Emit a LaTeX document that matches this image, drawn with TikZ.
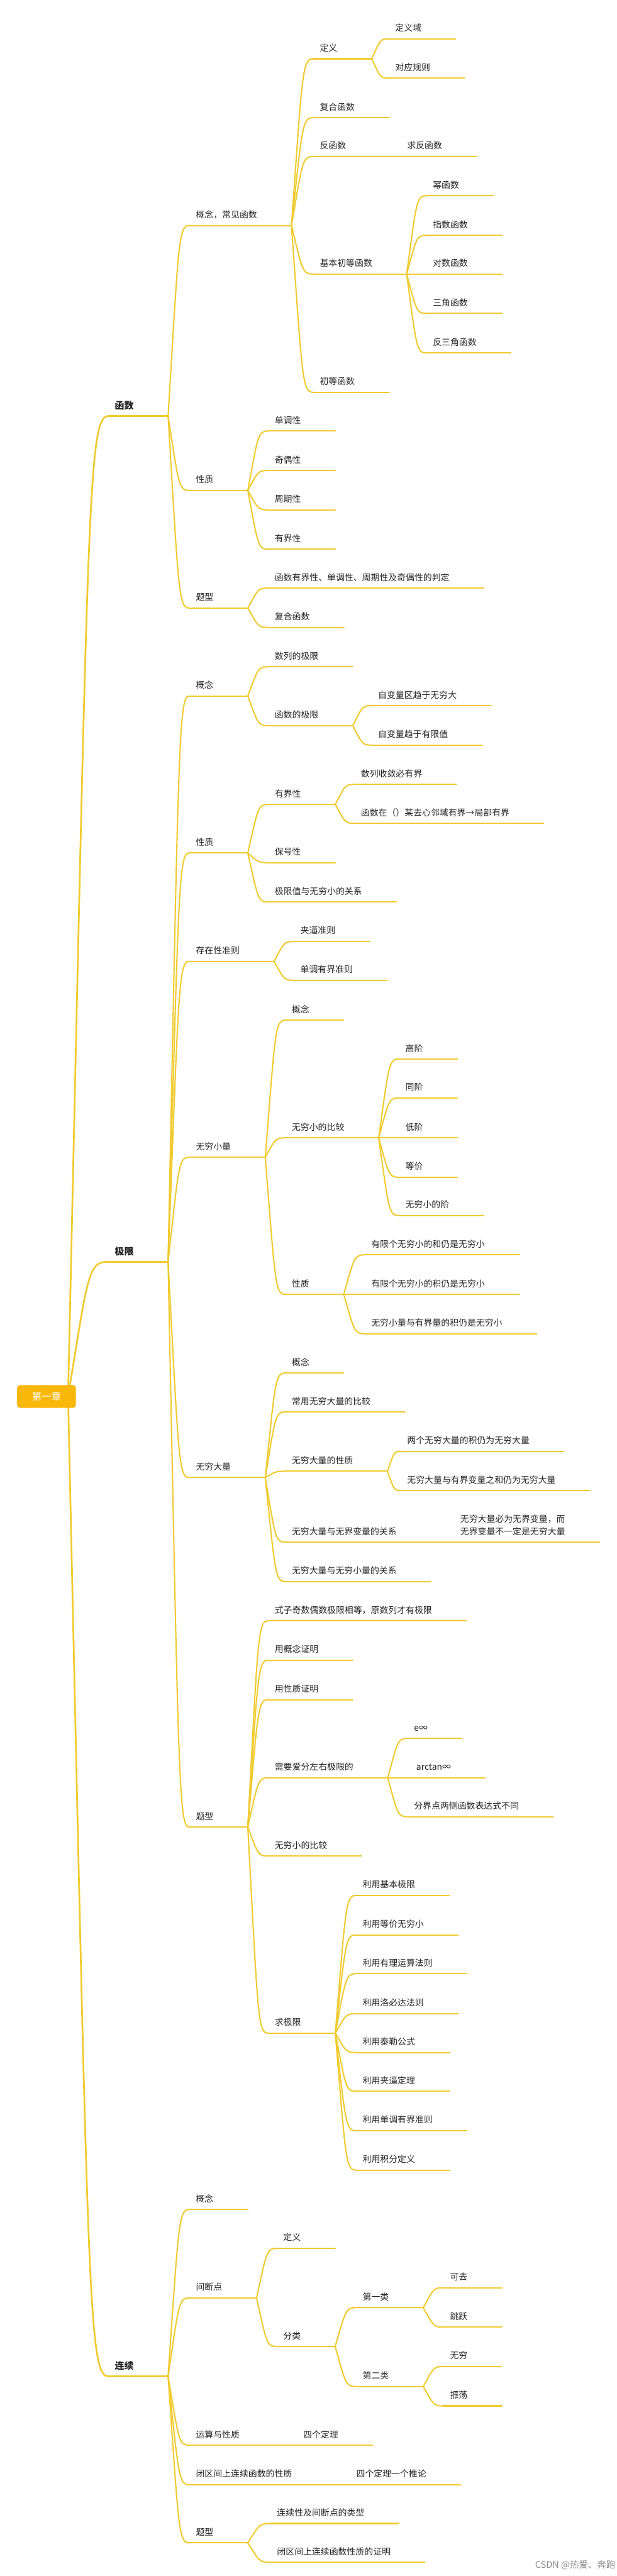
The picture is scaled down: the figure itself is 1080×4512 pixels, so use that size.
\documentclass[tikz,border=0pt]{standalone}
\usepackage{fontspec}
\setmainfont{Noto Sans CJK SC}
\usetikzlibrary{calc,backgrounds}
\definecolor{twigyellow}{RGB}{240,203,48}
\definecolor{rootamber}{RGB}{249,183,10}
\definecolor{inkgrey}{RGB}{34,34,34}
\definecolor{markgrey}{RGB}{140,140,140}
% curved connector: from a point to the left end of a topic's underline
\newcommand{\branch}[3][]{%
  \path (#2) coordinate (bA) (#3.south west) coordinate (bB)
    ($(bA)!0.5!(bB)$) coordinate (bM) ($(bA)!0.9!(bB)$) coordinate (bN);
  \draw[twig,#1] (bA) .. controls (bM |- bN) and (bM |- bB) .. (bB);
}

\begin{document}
\begin{tikzpicture}[x=1pt, y=-1pt,
  twig/.style={draw=twigyellow, line width=2.3pt, line cap=round},
  limb/.style={line width=3pt},
  topic/.style={anchor=south west, inner xsep=12pt, inner ysep=9pt,
    text height=11pt, text depth=4pt, text=inkgrey,
    font=\fontsize{15.3}{22}\selectfont,
    execute at end node={\hspace{48pt}},
    append after command={(\tikzlastnode.south west) edge[twig] (\tikzlastnode.south east)}},
  major/.style={topic, inner ysep=8pt, font=\fontsize{16.5}{20}\selectfont\bfseries,
    append after command={(\tikzlastnode.south west) edge[twig,limb] (\tikzlastnode.south east)}},
  root/.style={fill=rootamber, rounded corners=5pt, text=white,
    minimum width=103pt, minimum height=40pt, font=\fontsize{17}{20}\selectfont},
  csdnmark/.style={text=markgrey, inner sep=0pt, font=\fontsize{16}{18}\selectfont}]
  \useasboundingbox (0,0) rectangle (1080,4512);
  \begin{scope}[on background layer]
    \fill[white] (0,0) rectangle (1080,4512);
  \end{scope}

  % Root
  \node[root] (root) at (81.5,2446) {第一章};

  % 函数
  \node[major] (fn) at (189,729) {函数};
  \node[topic] (fnBasic) at (331,395) {概念，常见函数};
  \node[topic] (fnDef) at (548,103) {定义};
  \node[topic] (fnDom) at (680,68) {定义域};
  \node[topic] (fnRule) at (680,137) {对应规则};
  \node[topic] (fnComp) at (548,206) {复合函数};
  \node[topic] (fnInv) at (548,274) {反函数};
  \node[topic] (fnInvFind) at (701,274) {求反函数};
  \node[topic] (fnElemBase) at (548,480) {基本初等函数};
  \node[topic] (fnPow) at (746,343) {幂函数};
  \node[topic] (fnExp) at (746,412) {指数函数};
  \node[topic] (fnLog) at (746,480) {对数函数};
  \node[topic] (fnTrig) at (746,549) {三角函数};
  \node[topic] (fnArc) at (746,618) {反三角函数};
  \node[topic] (fnElem) at (548,687) {初等函数};
  \node[topic] (fnProp) at (331,859) {性质};
  \node[topic] (fnMono) at (469,755) {单调性};
  \node[topic] (fnPar) at (469,824) {奇偶性};
  \node[topic] (fnPer) at (469,893) {周期性};
  \node[topic] (fnBnd) at (469,962) {有界性};
  \node[topic] (fnTask) at (331,1065) {题型};
  \node[topic] (fnTaskA) at (469,1030) {函数有界性、单调性、周期性及奇偶性的判定};
  \node[topic] (fnTaskB) at (469,1099) {复合函数};

  % 极限
  \node[major] (lim) at (189,2210) {极限};
  \node[topic] (limCon) at (331,1219) {概念};
  \node[topic] (limSeq) at (469,1168) {数列的极限};
  \node[topic] (limFun) at (469,1271) {函数的极限};
  \node[topic] (limInf) at (650,1236) {自变量区趋于无穷大};
  \node[topic] (limFin) at (650,1305) {自变量趋于有限值};
  \node[topic] (limProp) at (331,1494) {性质};
  \node[topic] (limBnd) at (469,1409) {有界性};
  \node[topic] (limBndA) at (620,1374) {数列收敛必有界};
  \node[topic] (limBndB) at (620,1442) {函数在（）某去心邻域有界→局部有界};
  \node[topic] (limSign) at (469,1511) {保号性};
  \node[topic] (limRel) at (469,1580) {极限值与无穷小的关系};
  \node[topic] (limExist) at (331,1684) {存在性准则};
  \node[topic] (limSqz) at (514,1649) {夹逼准则};
  \node[topic] (limMono) at (514,1717) {单调有界准则};
  \node[topic] (inf) at (331,2027) {无穷小量};
  \node[topic] (infCon) at (499,1787) {概念};
  \node[topic] (infCmp) at (499,1993) {无穷小的比较};
  \node[topic] (infHi) at (698,1855) {高阶};
  \node[topic] (infSame) at (698,1923) {同阶};
  \node[topic] (infLo) at (698,1993) {低阶};
  \node[topic] (infEq) at (698,2062) {等价};
  \node[topic] (infOrd) at (698,2129) {无穷小的阶};
  \node[topic] (infProp) at (499,2267) {性质};
  \node[topic] (infSum) at (638,2198) {有限个无穷小的和仍是无穷小};
  \node[topic] (infProd) at (638,2267) {有限个无穷小的积仍是无穷小};
  \node[topic] (infBnd) at (638,2336) {无穷小量与有界量的积仍是无穷小};
  \node[topic] (big) at (331,2588) {无穷大量};
  \node[topic] (bigCon) at (499,2405) {概念};
  \node[topic] (bigCmp) at (499,2473) {常用无穷大量的比较};
  \node[topic] (bigProp) at (499,2577) {无穷大量的性质};
  \node[topic] (bigProd) at (701,2542) {两个无穷大量的积仍为无穷大量};
  \node[topic] (bigSum) at (701,2611) {无穷大量与有界变量之和仍为无穷大量};
  \node[topic] (bigUnb) at (499,2701) {无穷大量与无界变量的关系};
  \node[topic, align=left, text height=, text depth=, inner ysep=11pt] (bigUnbA) at (794,2701)
    {无穷大量必为无界变量，而\\无界变量不一定是无穷大量};
  \node[topic] (bigSmall) at (499,2770) {无穷大量与无穷小量的关系};
  \node[topic] (limTask) at (331,3200) {题型};
  \node[topic] (taskOdd) at (469,2839) {式子奇数偶数极限相等，原数列才有极限};
  \node[topic] (taskDef) at (469,2908) {用概念证明};
  \node[topic] (taskProp) at (469,2977) {用性质证明};
  \node[topic] (taskSide) at (469,3114) {需要爱分左右极限的};
  \node[topic] (sideE) at (713,3045) {e∞};
  \node[topic] (sideArc) at (717,3114) {arctan∞};
  \node[topic] (sidePiece) at (713,3182) {分界点两侧函数表达式不同};
  \node[topic] (taskCmp) at (469,3251) {无穷小的比较};
  \node[topic] (taskEval) at (469,3561) {求极限};
  \node[topic] (evBasic) at (623,3320) {利用基本极限};
  \node[topic] (evEq) at (623,3389) {利用等价无穷小};
  \node[topic] (evRat) at (623,3457) {利用有理运算法则};
  \node[topic] (evLH) at (623,3527) {利用洛必达法则};
  \node[topic] (evTaylor) at (623,3595) {利用泰勒公式};
  \node[topic] (evSqz) at (623,3663) {利用夹逼定理};
  \node[topic] (evMono) at (623,3732) {利用单调有界准则};
  \node[topic] (evInt) at (623,3801) {利用积分定义};

  % 连续
  \node[major] (cont) at (189,4162) {连续};
  \node[topic] (ctCon) at (331,3870) {概念};
  \node[topic] (ctGap) at (331,4025) {间断点};
  \node[topic] (gapDef) at (484,3938) {定义};
  \node[topic] (gapKind) at (484,4110) {分类};
  \node[topic] (kindOne) at (623,4042) {第一类};
  \node[topic] (oneRem) at (776,4007) {可去};
  \node[topic] (oneJump) at (776,4076) {跳跃};
  \node[topic] (kindTwo) at (623,4180) {第二类};
  \node[topic] (twoInf) at (776,4145) {无穷};
  \node[topic] (twoOsc) at (776,4214) {振荡};
  \node[topic] (ctOps) at (331,4283) {运算与性质};
  \node[topic] (ctOpsA) at (519,4283) {四个定理};
  \node[topic] (ctClosed) at (331,4352) {闭区间上连续函数的性质};
  \node[topic] (ctClosedA) at (612,4352) {四个定理一个推论};
  \node[topic] (ctTask) at (331,4454) {题型};
  \node[topic] (ctTaskA) at (473,4420) {连续性及间断点的类型};
  \node[topic] (ctTaskB) at (473,4488) {闭区间上连续函数性质的证明};

  \node[csdnmark, anchor=east] (csdn) at (1078,4493) {CSDN @热爱、奔跑};

  % Connectors
  \begin{scope}[on background layer]
    \foreach \c in {fn,lim,cont} {\branch[limb]{$(root.east)+(-14,0)$}{\c}}
    \foreach \c in {fnBasic,fnProp,fnTask} {\branch{fn.south east}{\c}}
    \foreach \c in {fnDef,fnComp,fnInv,fnElemBase,fnElem} {\branch{fnBasic.south east}{\c}}
    \foreach \c in {fnDom,fnRule} {\branch{fnDef.south east}{\c}}
    \branch{fnInv.south east}{fnInvFind}
    \foreach \c in {fnPow,fnExp,fnLog,fnTrig,fnArc} {\branch{fnElemBase.south east}{\c}}
    \foreach \c in {fnMono,fnPar,fnPer,fnBnd} {\branch{fnProp.south east}{\c}}
    \foreach \c in {fnTaskA,fnTaskB} {\branch{fnTask.south east}{\c}}
    \foreach \c in {limCon,limProp,limExist,inf,big,limTask} {\branch{lim.south east}{\c}}
    \foreach \c in {limSeq,limFun} {\branch{limCon.south east}{\c}}
    \foreach \c in {limInf,limFin} {\branch{limFun.south east}{\c}}
    \foreach \c in {limBnd,limSign,limRel} {\branch{limProp.south east}{\c}}
    \foreach \c in {limBndA,limBndB} {\branch{limBnd.south east}{\c}}
    \foreach \c in {limSqz,limMono} {\branch{limExist.south east}{\c}}
    \foreach \c in {infCon,infCmp,infProp} {\branch{inf.south east}{\c}}
    \foreach \c in {infHi,infSame,infLo,infEq,infOrd} {\branch{infCmp.south east}{\c}}
    \foreach \c in {infSum,infProd,infBnd} {\branch{infProp.south east}{\c}}
    \foreach \c in {bigCon,bigCmp,bigProp,bigUnb,bigSmall} {\branch{big.south east}{\c}}
    \foreach \c in {bigProd,bigSum} {\branch{bigProp.south east}{\c}}
    \branch{bigUnb.south east}{bigUnbA}
    \foreach \c in {taskOdd,taskDef,taskProp,taskSide,taskCmp,taskEval} {\branch{limTask.south east}{\c}}
    \foreach \c in {sideE,sideArc,sidePiece} {\branch{taskSide.south east}{\c}}
    \foreach \c in {evBasic,evEq,evRat,evLH,evTaylor,evSqz,evMono,evInt} {\branch{taskEval.south east}{\c}}
    \foreach \c in {ctCon,ctGap,ctOps,ctClosed,ctTask} {\branch{cont.south east}{\c}}
    \foreach \c in {gapDef,gapKind} {\branch{ctGap.south east}{\c}}
    \foreach \c in {kindOne,kindTwo} {\branch{gapKind.south east}{\c}}
    \foreach \c in {oneRem,oneJump} {\branch{kindOne.south east}{\c}}
    \foreach \c in {twoInf,twoOsc} {\branch{kindTwo.south east}{\c}}
    \branch{ctOps.south east}{ctOpsA}
    \branch{ctClosed.south east}{ctClosedA}
    \foreach \c in {ctTaskA,ctTaskB} {\branch{ctTask.south east}{\c}}
  \end{scope}
\end{tikzpicture}
\end{document}
